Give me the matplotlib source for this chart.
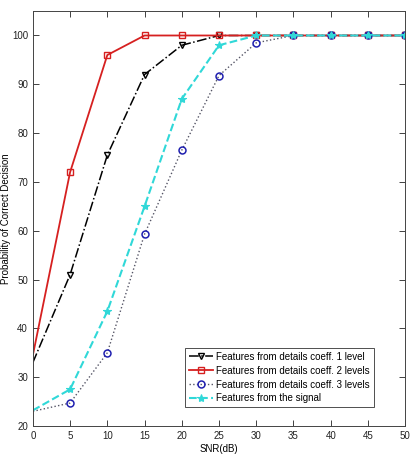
import matplotlib
matplotlib.use("Agg")
import matplotlib.pyplot as plt

snr = [0, 5, 10, 15, 20, 25, 30, 35, 40, 45, 50]
lvl1 = [33, 51, 75.5, 92, 98, 100, 100, 100, 100, 100, 100]
lvl2 = [34.5, 72, 96, 100, 100, 100, 100, 100, 100, 100, 100]
lvl3 = [23, 24.7, 35, 59.3, 76.5, 91.8, 98.5, 100, 100, 100, 100]
signal = [23.2, 27.5, 43.5, 65, 87, 98, 100, 100, 100, 100, 100]

labels = ["Features from details coeff. 1 level",
          "Features from details coeff. 2 levels",
          "Features from details coeff. 3 levels",
          "Features from the signal"]

plt.rcParams["font.family"] = ["Liberation Sans", "DejaVu Sans"]
plt.rcParams["font.size"] = 7

fig = plt.figure(figsize=(4.16, 4.62), dpi=100)
ax = fig.add_axes([0.079, 0.078, 0.895, 0.898])

me = slice(1, None)
ax.plot(snr, lvl1, color="black", linestyle="-.", marker="v", markersize=5,
        markerfacecolor="none", markeredgewidth=1, linewidth=1.1, markevery=me, label=labels[0])
ax.plot(snr, lvl2, color="#d62020", linestyle="-", marker="s", markersize=5,
        markerfacecolor="none", markeredgewidth=1, linewidth=1.3, markevery=me, label=labels[1])
ax.plot(snr, lvl3, color="#555566", linestyle=":", marker="o", markersize=5,
        markerfacecolor="none", markeredgecolor="#2020b0", markeredgewidth=1.1,
        linewidth=1, markevery=me, label=labels[2])
ax.plot(snr, signal, color="#30d8d8", linestyle="--", marker="*", markersize=6,
        markeredgewidth=0.8, linewidth=1.5, markevery=me, label=labels[3])

ax.set_xlim(0, 50)
ax.set_ylim(20, 105)
ax.set_xticks(range(0, 51, 5))
ax.set_yticks(range(20, 101, 10))
ax.tick_params(direction="in", top=True, right=True, length=4, width=0.6,
               colors="#222222", labelsize=7)
for s in ax.spines.values():
    s.set_linewidth(0.7)
    s.set_color("#444444")

ax.set_xlabel("SNR(dB)", fontsize=7, labelpad=2)
ax.set_ylabel("Probability of Correct Decision", fontsize=7)
ax.yaxis.set_label_coords(-0.058, 0.5)

leg = ax.legend(loc="lower right", bbox_to_anchor=(0.915, 0.045), fontsize=7,
                fancybox=False, framealpha=1, edgecolor="#333333",
                handlelength=2.5, borderpad=0.4, labelspacing=0.4,
                handletextpad=0.3, borderaxespad=0)
leg.get_frame().set_linewidth(0.6)

fig.savefig("out.png", dpi=100)
